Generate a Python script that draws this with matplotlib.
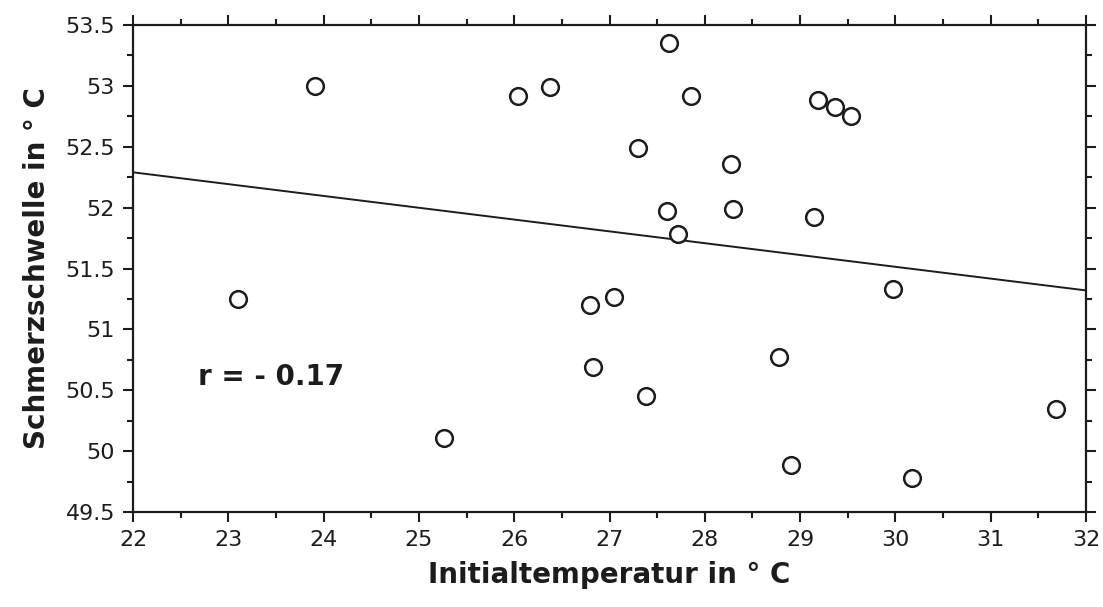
import matplotlib
matplotlib.use("Agg")
import matplotlib.pyplot as plt
from matplotlib.ticker import MultipleLocator

# values
init_temp = [23.10, 23.91, 25.26, 26.04, 26.38, 26.80, 26.83, 27.05, 27.30, 27.38,
             27.60, 27.62, 27.72, 27.85, 28.27, 28.30, 28.78, 28.90, 29.15, 29.19,
             29.37, 29.53, 29.97, 30.17, 31.69]
pain_thr = [51.25, 53.00, 50.11, 52.92, 52.99, 51.20, 50.69, 51.27, 52.49, 50.45,
            51.97, 53.35, 51.78, 52.92, 52.36, 51.99, 50.77, 49.89, 51.92, 52.88,
            52.83, 52.75, 51.33, 49.78, 50.35]

# regression line (end values read at x = 22 and x = 32)
fit_x = [22, 32]
fit_y = [52.29, 51.32]
r_label = "r = - 0.17"

y_ticks = [49.5, 50, 50.5, 51, 51.5, 52, 52.5, 53, 53.5]
y_ticklabels = ["49.5", "50", "50.5", "51", "51.5", "52", "52.5", "53", "53.5"]

ink = "#1c1c1c"

fig = plt.figure(figsize=(11.03, 6.07), dpi=100)
ax = fig.add_axes([0.1206, 0.1565, 0.8640, 0.8023])

ax.plot(fit_x, fit_y, color=ink, lw=1.4)
ax.plot(init_temp, pain_thr, linestyle="none", marker="o", ms=12,
        mfc="white", mec=ink, mew=1.8)

ax.set_xlim(22, 32)
ax.set_ylim(49.5, 53.5)
ax.xaxis.set_major_locator(MultipleLocator(1))
ax.xaxis.set_minor_locator(MultipleLocator(0.5))
ax.set_yticks(y_ticks)
ax.set_yticklabels(y_ticklabels)
ax.yaxis.set_minor_locator(MultipleLocator(0.25))

ax.tick_params(which="both", direction="out", color=ink, width=1.5,
               top=True, right=True, labelsize=16, labelcolor=ink)
ax.tick_params(which="major", length=7, pad=6)
ax.tick_params(which="minor", length=4)

for s in ax.spines.values():
    s.set_linewidth(1.6)
    s.set_color(ink)

ax.set_xlabel("Initialtemperatur in ° C", fontsize=20, fontweight="bold",
              color=ink, labelpad=8)
ax.set_ylabel("Schmerzschwelle in ° C", fontsize=20, fontweight="bold",
              color=ink, labelpad=10)

ax.text(22.68, 50.61, r_label, fontsize=20, fontweight="bold", color=ink,
        ha="left", va="center")

fig.savefig("out.png", dpi=100, facecolor="white")
